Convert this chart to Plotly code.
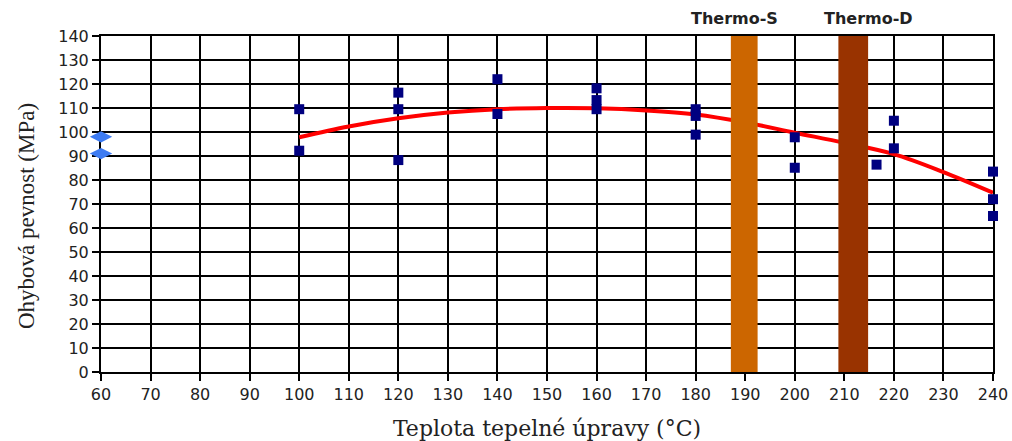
import plotly.graph_objects as go

# Measured bending strength (MPa) by heat-treatment temperature (°C)
temps_treated = [100, 100, 120, 120, 120, 140, 140, 160, 160, 160,
                 180, 180, 180, 200, 200, 216.5, 220, 220, 240, 240, 240]
strength_treated = [109.5, 92.2, 116.4, 109.5, 88.3, 122, 107.5, 118.2, 113.3, 109.5,
                    109.5, 106.7, 98.9, 97.8, 85.1, 86.4, 104.7, 93.2, 83.5, 72, 65]

# Untreated reference samples
temps_ref = [60, 60]
strength_ref = [98, 91]

# Trend curve
trend_t = [100, 110, 120, 130, 140, 150, 160, 170, 180, 190, 200, 210, 220, 230, 240]
trend_v = [97.8, 102.3, 105.7, 108.1, 109.5, 110.0, 109.9, 109.0, 107.3, 104.0, 99.7, 95.5, 90.8, 83.3, 74.7]

# Commercial process temperature bands
band_names = ["Thermo-S", "Thermo-D"]
band_from = [187.1, 208.8]
band_to = [192.5, 214.8]
band_colors = ["#CC6600", "#993300"]
band_label_x = [187.9, 214.8]

x_ticks = list(range(60, 241, 10))
y_ticks = list(range(0, 141, 10))

fig = go.Figure()

fig.add_trace(go.Scatter(
    x=trend_t, y=trend_v, mode="lines",
    line=dict(color="#FF0000", width=4, shape="spline"),
    showlegend=False, hoverinfo="skip",
))
fig.add_trace(go.Scatter(
    x=temps_treated, y=strength_treated, mode="markers",
    marker=dict(symbol="square", size=10, color="#000080"),
    showlegend=False, cliponaxis=False,
))
fig.add_trace(go.Scatter(
    x=temps_ref, y=strength_ref, mode="markers",
    marker=dict(symbol="diamond-wide", size=16, color="#3D7BF2", line=dict(width=0)),
    showlegend=False, cliponaxis=False,
))

for name, x0, x1, col, lx in zip(band_names, band_from, band_to, band_colors, band_label_x):
    fig.add_shape(type="rect", xref="x", yref="y", x0=x0, x1=x1, y0=0, y1=140,
                  fillcolor=col, line=dict(width=0), layer="above")
    fig.add_annotation(x=lx, xref="x", y=1.0, yref="paper", yshift=29,
                       text="<b>%s</b>" % name, showarrow=False,
                       font=dict(family="DejaVu Sans", size=16, color="#222222"))

# Vertical axis caption
fig.add_annotation(x=0, xref="paper", xshift=-75, xanchor="center",
                   y=0.464, yref="paper", yanchor="middle", textangle=-90,
                   text="Ohybová pevnost (MPa)", showarrow=False,
                   font=dict(family="Liberation Serif", size=23, color="#222222"))

axis_font = dict(family="DejaVu Sans", size=16, color="#222222")

common = dict(
    tickmode="array", ticks="outside", ticklen=7, tickwidth=2, tickcolor="#000000",
    showgrid=True, gridcolor="#000000", gridwidth=1.5,
    showline=True, linecolor="#000000", linewidth=2, mirror=True,
    zeroline=False, tickfont=axis_font, automargin=False, layer="below traces",
)

fig.update_xaxes(
    range=[60, 240], tickvals=x_ticks, **common,
    title=dict(text="Teplota tepelné úpravy (°C)",
               font=dict(family="DejaVu Serif", size=22, color="#222222"), standoff=21),
)
fig.update_yaxes(range=[0, 140], tickvals=y_ticks, **common)

fig.update_layout(
    width=1012, height=441,
    margin=dict(l=101, r=19, t=36, b=69),
    plot_bgcolor="#FFFFFF", paper_bgcolor="#FFFFFF",
)

fig.write_html("out.html")
